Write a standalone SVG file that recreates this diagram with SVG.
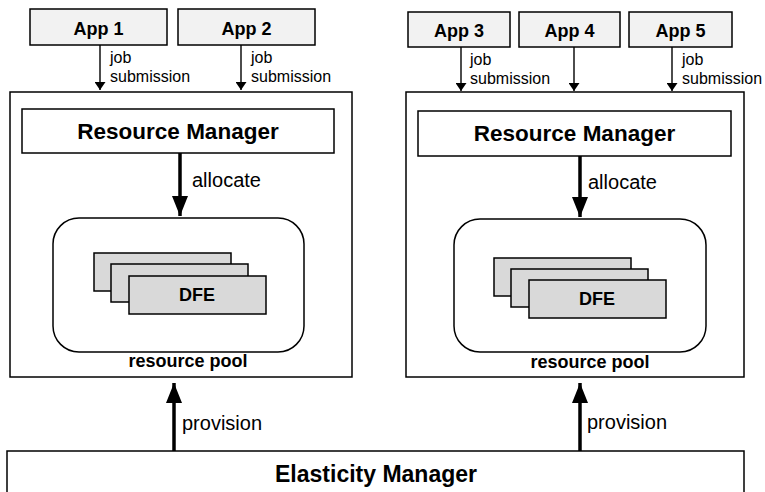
<svg xmlns="http://www.w3.org/2000/svg" width="765" height="492" viewBox="0 0 765 492">
<style>
.box{fill:#fff;stroke:#000;stroke-width:1.5}
.app{fill:#f2f2f2;stroke:#000;stroke-width:1.5}
.dfe{fill:#d9d9d9;stroke:#000;stroke-width:1.5}
.pool{fill:#fff;stroke:#000;stroke-width:1.5}
text{font-family:"Liberation Sans",Arial,sans-serif;fill:#000}
.b{font-weight:bold;text-anchor:middle}
.thin{stroke:#000;stroke-width:1.4;fill:none}
.thick{stroke:#000;stroke-width:3.5;fill:none}
</style>
<defs>
<marker id="ah" viewBox="0 0 10 10" refX="10" refY="5" markerWidth="8" markerHeight="11" markerUnits="userSpaceOnUse" orient="auto" preserveAspectRatio="none">
<path d="M0,0 L10,5 L0,10 z" fill="#000"/>
</marker>
<marker id="ahb" viewBox="0 0 10 10" refX="10" refY="5" markerWidth="20" markerHeight="16" markerUnits="userSpaceOnUse" orient="auto" preserveAspectRatio="none">
<path d="M0,0 L10,5 L0,10 z" fill="#000"/>
</marker>
</defs>

<g id="cluster-left">
<rect class="box" x="10" y="92" width="342" height="285"/>
</g>
<g id="cluster-right">
<rect class="box" x="406" y="92" width="338" height="285"/>
</g>

<g id="app1"><rect class="app" x="30" y="9" width="137" height="36"/><text class="b" x="98.5" y="35" font-size="18">App 1</text></g>
<g id="app2"><rect class="app" x="178" y="9" width="137" height="36"/><text class="b" x="246.5" y="35" font-size="18">App 2</text></g>
<g id="app3"><rect class="app" x="408" y="12" width="102" height="35"/><text class="b" x="459" y="37" font-size="18">App 3</text></g>
<g id="app4"><rect class="app" x="519" y="12" width="101" height="35"/><text class="b" x="569.5" y="37" font-size="18">App 4</text></g>
<g id="app5"><rect class="app" x="629" y="12" width="103" height="35"/><text class="b" x="680.5" y="37" font-size="18">App 5</text></g>

<g id="rm-left"><rect class="box" x="22" y="109" width="312" height="44"/><text class="b" x="178" y="139" font-size="22.5">Resource Manager</text></g>
<g id="rm-right"><rect class="box" x="418" y="111" width="313" height="45"/><text class="b" x="574.5" y="141" font-size="22.5">Resource Manager</text></g>

<g id="pool-left">
<rect class="pool" x="53" y="218" width="251" height="134" rx="26"/>
<rect class="dfe" x="94" y="253" width="137" height="38"/>
<rect class="dfe" x="111" y="264" width="137" height="38"/>
<rect class="dfe" x="129" y="276" width="137" height="38"/>
<text class="b" x="197" y="301" font-size="18">DFE</text>
<text class="b" x="188" y="367" font-size="18">resource pool</text>
</g>
<g id="pool-right">
<rect class="pool" x="454" y="219" width="252" height="133" rx="26"/>
<rect class="dfe" x="494" y="258" width="137" height="38"/>
<rect class="dfe" x="511" y="269" width="137" height="38"/>
<rect class="dfe" x="529" y="280" width="137" height="38"/>
<text class="b" x="597" y="305" font-size="18">DFE</text>
<text class="b" x="590" y="368" font-size="18">resource pool</text>
</g>

<g id="elasticity-manager"><rect class="box" x="7" y="451" width="737" height="50"/><text class="b" x="376" y="482" font-size="23">Elasticity Manager</text></g>

<g id="connectors">
<line class="thin" x1="100" y1="45" x2="100" y2="90" marker-end="url(#ah)"/>
<line class="thin" x1="241" y1="45" x2="241" y2="90" marker-end="url(#ah)"/>
<line class="thin" x1="461" y1="47" x2="461" y2="91" marker-end="url(#ah)"/>
<line class="thin" x1="574" y1="47" x2="574" y2="91" marker-end="url(#ah)"/>
<line class="thin" x1="672" y1="47" x2="672" y2="91" marker-end="url(#ah)"/>
<line class="thick" x1="180" y1="153" x2="180" y2="216" marker-end="url(#ahb)"/>
<line class="thick" x1="580" y1="156" x2="580" y2="217" marker-end="url(#ahb)"/>
<line class="thick" x1="174" y1="451" x2="174" y2="383" marker-end="url(#ahb)"/>
<line class="thick" x1="580" y1="451" x2="580" y2="383" marker-end="url(#ahb)"/>
<text x="110" y="63" font-size="16">job</text>
<text x="110" y="82" font-size="16">submission</text>
<text x="251" y="63" font-size="16">job</text>
<text x="251" y="82" font-size="16">submission</text>
<text x="470" y="65" font-size="16">job</text>
<text x="470" y="84" font-size="16">submission</text>
<text x="682" y="65" font-size="16">job</text>
<text x="682" y="84" font-size="16">submission</text>
<text x="192" y="187" font-size="20">allocate</text>
<text x="588" y="189" font-size="20">allocate</text>
<text x="182" y="430" font-size="20">provision</text>
<text x="587" y="429" font-size="20">provision</text>
</g>
</svg>
